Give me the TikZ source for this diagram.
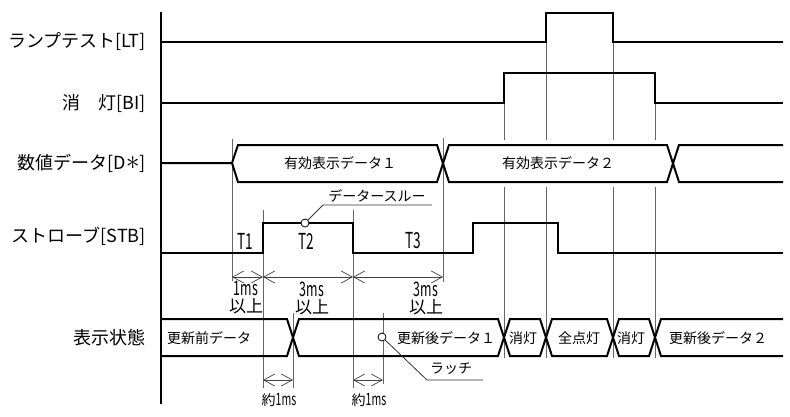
\documentclass[tikz,border=0pt]{standalone}
\usepackage{fontspec}
\setmainfont{Noto Sans CJK JP}
\newfontfamily\narrowfont[FakeStretch=0.62]{Noto Sans CJK JP}
\usetikzlibrary{arrows.meta, positioning}
\tikzstyle{signal} = [line width=2pt, line join=miter]
\tikzstyle{axis} = [line width=2pt]
\tikzstyle{guide} = [line width=0.8pt, black!60]
\tikzstyle{dim} = [line width=0.7pt, black!75, {Straight Barb[length=11pt,width=12pt]}-{Straight Barb[length=11pt,width=12pt]}]
\tikzstyle{siglabel} = [anchor=east, inner sep=0pt, font=\fontsize{18}{18}\selectfont]
\tikzstyle{bustext} = [inner sep=0pt, font=\fontsize{14}{14}\selectfont]
\tikzstyle{timetext} = [inner sep=0pt, font=\fontsize{22}{22}\narrowfont]
\tikzstyle{spec} = [inner sep=0pt, align=center, font=\fontsize{17}{17}\selectfont]
\tikzstyle{marker} = [circle, draw, fill=white, line width=0.8pt, inner sep=0pt, minimum size=8pt]
\tikzstyle{leader} = [line width=0.8pt, black!80]

\begin{document}
\begin{tikzpicture}[x=1pt,y=-1pt]
\useasboundingbox (0,0) rectangle (790,416);

% signal names
\node (lt) [siglabel] at (146,42) {ランプテスト[LT]};
\node (bi) [siglabel] at (146,103) {消　灯[BI]};
\node (dd) [siglabel] at (146,163) {数値データ[D\scalebox{1.6}{$\ast$}]};
\node (stb) [siglabel] at (146,236) {ストローブ[STB]};
\node (disp) [siglabel] at (146,338) {表示状態};

% guide lines
\draw [guide] (232,139) -- (232,281);
\draw [guide] (443,138) -- (443,282);
\draw [guide] (263,210) -- (263,388);
\draw [guide] (353,210) -- (353,388);
\draw [guide] (293,313) -- (293,388);
\draw [guide] (383,313) -- (383,384);
\foreach \x/\y in {504/103, 546/42, 613/42, 655/103} {
  \draw [guide] (\x,\y) -- (\x,140);
  \draw [guide] (\x,187) -- (\x,358);
}

% axis and waveforms
\draw [axis] (161,12) -- (161,404);
\draw [signal] (161,42) -- (546,42) -- (546,13) -- (613,13) -- (613,42) -- (783,42);
\draw [signal] (161,103) -- (504,103) -- (504,73) -- (655,73) -- (655,103) -- (783,103);
\draw [signal] (161,163) -- (232,163) -- (238,145) -- (437,145) -- (449,182) -- (667,182) -- (679,145) -- (783,145);
\draw [signal] (232,163) -- (238,182) -- (437,182) -- (449,145) -- (667,145) -- (679,182) -- (783,182);
\draw [signal] (161,253) -- (263,253) -- (263,223) -- (353,223) -- (353,253) -- (473,253) -- (473,223) -- (558,223) -- (558,253) -- (783,253);
\draw [signal] (161,319) -- (287,319) -- (299,356) -- (498,356) -- (510,319) -- (540,319) -- (552,356) -- (607,356) -- (619,319) -- (649,319) -- (661,356) -- (783,356);
\draw [signal] (161,356) -- (287,356) -- (299,319) -- (498,319) -- (510,356) -- (540,356) -- (552,319) -- (607,319) -- (619,356) -- (649,356) -- (661,319) -- (783,319);

% bus contents
\node (data1) [bustext] at (340,163) {有効表示データ１};
\node (data2) [bustext] at (558,163) {有効表示データ２};
\node (old) [bustext] at (209,338) {更新前データ};
\node (new1) [bustext] at (446,338) {更新後データ１};
\node (off1) [bustext] at (523,338) {消灯};
\node (full) [bustext] at (579,338) {全点灯};
\node (off2) [bustext] at (631,338) {消灯};
\node (new2) [bustext] at (718,338) {更新後データ２};

% strobe periods
\node (t1) [timetext] at (245,241) {T1};
\node (t2) [timetext] at (306,241) {T2};
\node (t3) [timetext] at (413,241) {T3};

\draw [dim] (232,277) -- (263,277);
\draw [dim] (263,277) -- (353,277);
\draw [dim] (353,277) -- (443,277);
\node (w1) [spec] at (246,298) {{\fontsize{20}{17}\narrowfont 1ms}\\以上};
\node (w2) [spec] at (312,298) {{\fontsize{20}{17}\narrowfont 3ms}\\以上};
\node (w3) [spec] at (426,298) {{\fontsize{20}{17}\narrowfont 3ms}\\以上};

\draw [dim] (263,380) -- (293,380);
\draw [dim] (353,380) -- (383,380);
\node (d1) [bustext] at (279,400) {約{\fontsize{17}{14}\narrowfont 1ms}};
\node (d2) [bustext] at (369,400) {約{\fontsize{17}{14}\narrowfont 1ms}};

% notes
\node (thru) [marker] at (305,223) {};
\coordinate (thrubend) at (323,205);
\coordinate (thruend) at (432,205);
\draw [leader] (thru) -- (thrubend) -- (thruend);
\node (thrutext) [bustext] at (377,196) {データースルー};

\node (latch) [marker] at (382,337) {};
\coordinate (latchbend) at (427,380);
\coordinate (latchend) at (483,380);
\draw [leader] (latch) -- (latchbend) -- (latchend);
\node (latchtext) [bustext] at (451,369) {ラッチ};

\end{tikzpicture}
\end{document}
